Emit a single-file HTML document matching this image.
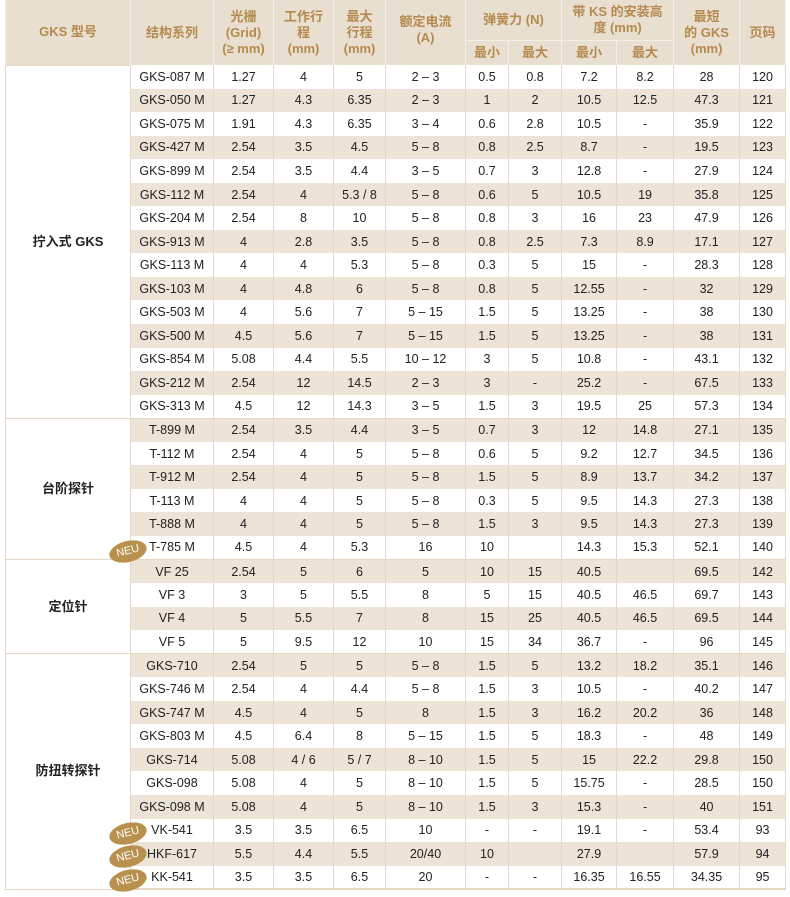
<!DOCTYPE html>
<html><head><meta charset="utf-8"><style>
body{margin:0;background:#fff;width:790px;height:897px;overflow:hidden;position:relative;font-family:"Liberation Sans","Noto Sans CJK SC",sans-serif;}
table{position:absolute;left:5px;top:0;border-collapse:collapse;table-layout:fixed;width:780px;font-size:12.5px;color:#222;}
td,th{padding:0;text-align:center;border-left:1px solid #e6d8c4;border-right:1px solid #e6d8c4;line-height:14px;}
th{background:#e9dfd1;color:#b48a4e;font-weight:bold;font-size:13px;line-height:16px;border-left:1px solid #f5efe6;border-right:1px solid #f5efe6;}
tr.h1 th{height:40px;}
tr.h2 th{height:24px;border-top:1px solid #f5efe6;}
tbody tr{height:23.55px;}
tbody tr:nth-child(even) td{background:#ede3d6;}
td.g{background:#fff !important;font-weight:bold;font-size:13px;border-top:1px solid #e6d8c4;border-bottom:1px solid #e6d8c4;}
tr.gs td{border-top:1px solid #e6d8c4;}
tbody tr:last-child td{border-bottom:2px solid #e6d8c4;}
.neu{position:absolute;width:38px;height:21px;border-radius:50%;background:#b8914f;color:#fff;font-size:11px;line-height:21px;text-align:center;transform:rotate(-14deg);font-family:"Liberation Sans",sans-serif;}
</style></head><body>
<table>
<colgroup><col style="width:125px"><col style="width:83px"><col style="width:60px"><col style="width:60px"><col style="width:52px"><col style="width:80px"><col style="width:43px"><col style="width:53px"><col style="width:55px"><col style="width:57px"><col style="width:66px"><col style="width:46px"></colgroup>
<thead>
<tr class="h1"><th rowspan="2">GKS 型号</th><th rowspan="2">结构系列</th><th rowspan="2">光栅<br>(Grid)<br>(≥ mm)</th><th rowspan="2">工作行<br>程<br>(mm)</th><th rowspan="2">最大<br>行程<br>(mm)</th><th rowspan="2" style="vertical-align:top;padding-top:14px">额定电流<br>(A)</th><th colspan="2">弹簧力 (N)</th><th colspan="2">带 KS 的安装高<br>度 (mm)</th><th rowspan="2">最短<br>的 GKS<br>(mm)</th><th rowspan="2">页码</th></tr>
<tr class="h2"><th>最小</th><th>最大</th><th>最小</th><th>最大</th></tr>
</thead>
<tbody>
<tr><td class="g" rowspan="15">拧入式 GKS</td><td>GKS-087 M</td><td>1.27</td><td>4</td><td>5</td><td>2 – 3</td><td>0.5</td><td>0.8</td><td>7.2</td><td>8.2</td><td>28</td><td>120</td></tr>
<tr><td>GKS-050 M</td><td>1.27</td><td>4.3</td><td>6.35</td><td>2 – 3</td><td>1</td><td>2</td><td>10.5</td><td>12.5</td><td>47.3</td><td>121</td></tr>
<tr><td>GKS-075 M</td><td>1.91</td><td>4.3</td><td>6.35</td><td>3 – 4</td><td>0.6</td><td>2.8</td><td>10.5</td><td>-</td><td>35.9</td><td>122</td></tr>
<tr><td>GKS-427 M</td><td>2.54</td><td>3.5</td><td>4.5</td><td>5 – 8</td><td>0.8</td><td>2.5</td><td>8.7</td><td>-</td><td>19.5</td><td>123</td></tr>
<tr><td>GKS-899 M</td><td>2.54</td><td>3.5</td><td>4.4</td><td>3 – 5</td><td>0.7</td><td>3</td><td>12.8</td><td>-</td><td>27.9</td><td>124</td></tr>
<tr><td>GKS-112 M</td><td>2.54</td><td>4</td><td>5.3 / 8</td><td>5 – 8</td><td>0.6</td><td>5</td><td>10.5</td><td>19</td><td>35.8</td><td>125</td></tr>
<tr><td>GKS-204 M</td><td>2.54</td><td>8</td><td>10</td><td>5 – 8</td><td>0.8</td><td>3</td><td>16</td><td>23</td><td>47.9</td><td>126</td></tr>
<tr><td>GKS-913 M</td><td>4</td><td>2.8</td><td>3.5</td><td>5 – 8</td><td>0.8</td><td>2.5</td><td>7.3</td><td>8.9</td><td>17.1</td><td>127</td></tr>
<tr><td>GKS-113 M</td><td>4</td><td>4</td><td>5.3</td><td>5 – 8</td><td>0.3</td><td>5</td><td>15</td><td>-</td><td>28.3</td><td>128</td></tr>
<tr><td>GKS-103 M</td><td>4</td><td>4.8</td><td>6</td><td>5 – 8</td><td>0.8</td><td>5</td><td>12.55</td><td>-</td><td>32</td><td>129</td></tr>
<tr><td>GKS-503 M</td><td>4</td><td>5.6</td><td>7</td><td>5 – 15</td><td>1.5</td><td>5</td><td>13.25</td><td>-</td><td>38</td><td>130</td></tr>
<tr><td>GKS-500 M</td><td>4.5</td><td>5.6</td><td>7</td><td>5 – 15</td><td>1.5</td><td>5</td><td>13.25</td><td>-</td><td>38</td><td>131</td></tr>
<tr><td>GKS-854 M</td><td>5.08</td><td>4.4</td><td>5.5</td><td>10 – 12</td><td>3</td><td>5</td><td>10.8</td><td>-</td><td>43.1</td><td>132</td></tr>
<tr><td>GKS-212 M</td><td>2.54</td><td>12</td><td>14.5</td><td>2 – 3</td><td>3</td><td>-</td><td>25.2</td><td>-</td><td>67.5</td><td>133</td></tr>
<tr><td>GKS-313 M</td><td>4.5</td><td>12</td><td>14.3</td><td>3 – 5</td><td>1.5</td><td>3</td><td>19.5</td><td>25</td><td>57.3</td><td>134</td></tr>
<tr class="gs"><td class="g" rowspan="6">台阶探针</td><td>T-899 M</td><td>2.54</td><td>3.5</td><td>4.4</td><td>3 – 5</td><td>0.7</td><td>3</td><td>12</td><td>14.8</td><td>27.1</td><td>135</td></tr>
<tr><td>T-112 M</td><td>2.54</td><td>4</td><td>5</td><td>5 – 8</td><td>0.6</td><td>5</td><td>9.2</td><td>12.7</td><td>34.5</td><td>136</td></tr>
<tr><td>T-912 M</td><td>2.54</td><td>4</td><td>5</td><td>5 – 8</td><td>1.5</td><td>5</td><td>8.9</td><td>13.7</td><td>34.2</td><td>137</td></tr>
<tr><td>T-113 M</td><td>4</td><td>4</td><td>5</td><td>5 – 8</td><td>0.3</td><td>5</td><td>9.5</td><td>14.3</td><td>27.3</td><td>138</td></tr>
<tr><td>T-888 M</td><td>4</td><td>4</td><td>5</td><td>5 – 8</td><td>1.5</td><td>3</td><td>9.5</td><td>14.3</td><td>27.3</td><td>139</td></tr>
<tr><td>T-785 M</td><td>4.5</td><td>4</td><td>5.3</td><td>16</td><td>10</td><td></td><td>14.3</td><td>15.3</td><td>52.1</td><td>140</td></tr>
<tr class="gs"><td class="g" rowspan="4">定位针</td><td>VF 25</td><td>2.54</td><td>5</td><td>6</td><td>5</td><td>10</td><td>15</td><td>40.5</td><td></td><td>69.5</td><td>142</td></tr>
<tr><td>VF 3</td><td>3</td><td>5</td><td>5.5</td><td>8</td><td>5</td><td>15</td><td>40.5</td><td>46.5</td><td>69.7</td><td>143</td></tr>
<tr><td>VF 4</td><td>5</td><td>5.5</td><td>7</td><td>8</td><td>15</td><td>25</td><td>40.5</td><td>46.5</td><td>69.5</td><td>144</td></tr>
<tr><td>VF 5</td><td>5</td><td>9.5</td><td>12</td><td>10</td><td>15</td><td>34</td><td>36.7</td><td>-</td><td>96</td><td>145</td></tr>
<tr class="gs"><td class="g" rowspan="10">防扭转探针</td><td>GKS-710</td><td>2.54</td><td>5</td><td>5</td><td>5 – 8</td><td>1.5</td><td>5</td><td>13.2</td><td>18.2</td><td>35.1</td><td>146</td></tr>
<tr><td>GKS-746 M</td><td>2.54</td><td>4</td><td>4.4</td><td>5 – 8</td><td>1.5</td><td>3</td><td>10.5</td><td>-</td><td>40.2</td><td>147</td></tr>
<tr><td>GKS-747 M</td><td>4.5</td><td>4</td><td>5</td><td>8</td><td>1.5</td><td>3</td><td>16.2</td><td>20.2</td><td>36</td><td>148</td></tr>
<tr><td>GKS-803 M</td><td>4.5</td><td>6.4</td><td>8</td><td>5 – 15</td><td>1.5</td><td>5</td><td>18.3</td><td>-</td><td>48</td><td>149</td></tr>
<tr><td>GKS-714</td><td>5.08</td><td>4 / 6</td><td>5 / 7</td><td>8 – 10</td><td>1.5</td><td>5</td><td>15</td><td>22.2</td><td>29.8</td><td>150</td></tr>
<tr><td>GKS-098</td><td>5.08</td><td>4</td><td>5</td><td>8 – 10</td><td>1.5</td><td>5</td><td>15.75</td><td>-</td><td>28.5</td><td>150</td></tr>
<tr><td>GKS-098 M</td><td>5.08</td><td>4</td><td>5</td><td>8 – 10</td><td>1.5</td><td>3</td><td>15.3</td><td>-</td><td>40</td><td>151</td></tr>
<tr><td>VK-541</td><td>3.5</td><td>3.5</td><td>6.5</td><td>10</td><td>-</td><td>-</td><td>19.1</td><td>-</td><td>53.4</td><td>93</td></tr>
<tr><td>HKF-617</td><td>5.5</td><td>4.4</td><td>5.5</td><td>20/40</td><td>10</td><td></td><td>27.9</td><td></td><td>57.9</td><td>94</td></tr>
<tr><td>KK-541</td><td>3.5</td><td>3.5</td><td>6.5</td><td>20</td><td>-</td><td>-</td><td>16.35</td><td>16.55</td><td>34.35</td><td>95</td></tr>
</tbody></table>
<div class="neu" style="left:109px;top:541px;">NEU</div>
<div class="neu" style="left:109px;top:823px;">NEU</div>
<div class="neu" style="left:109px;top:846px;">NEU</div>
<div class="neu" style="left:109px;top:870px;">NEU</div>
</body></html>
